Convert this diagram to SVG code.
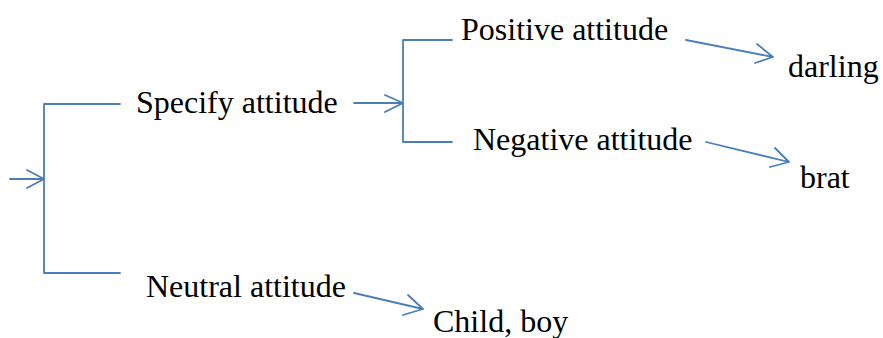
<svg xmlns="http://www.w3.org/2000/svg" width="883" height="338" viewBox="0 0 883 338">
<style>
text { font-family: "Liberation Serif", "Times New Roman", serif; font-size: 32px; fill: #000; }
.ln { fill: none; stroke: #4a7ebb; stroke-width: 1.8; stroke-linecap: round; stroke-linejoin: round; }
</style>
<rect width="883" height="338" fill="#fff"/>
<g id="connectors">
  <path class="ln" d="M120 104 H44 V273 H120"/>
  <path class="ln" d="M10 179 H44 M27 170 L44 179 L27 188"/>
  <path class="ln" d="M452 40 H403 V142 H452"/>
  <path class="ln" d="M354 103 H403 M385 95 L403 103 L385 112"/>
  <path class="ln" d="M686 40 L773 57 M757 44 L773 57 L755 63"/>
  <path class="ln" d="M706 142 L789 162 M775 148 L789 162 L770 167"/>
  <path class="ln" d="M354 293 L423 309 M408 295 L423 309 L403 315"/>
</g>
<g id="specify"><text x="136" y="113">Specify attitude</text></g>
<g id="positive"><text x="461" y="40">Positive attitude</text></g>
<g id="negative"><text x="473" y="150">Negative attitude</text></g>
<g id="darling"><text x="788" y="77">darling</text></g>
<g id="brat"><text x="800" y="188">brat</text></g>
<g id="neutral"><text x="146" y="297">Neutral attitude</text></g>
<g id="child"><text x="433" y="332">Child, boy</text></g>
</svg>
